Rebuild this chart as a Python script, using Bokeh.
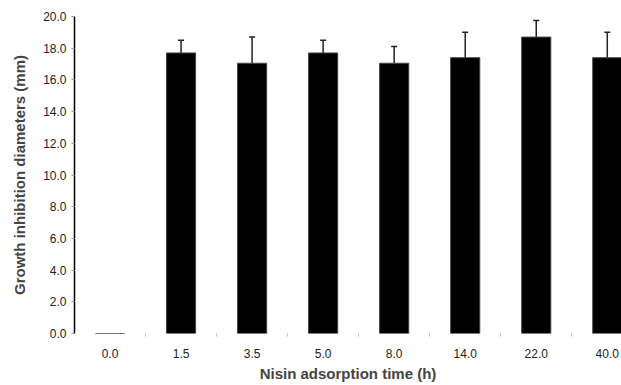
from bokeh.plotting import figure
from bokeh.models import ColumnDataSource, Whisker, TeeHead, FixedTicker, Range1d
from bokeh.embed import file_html
from bokeh.resources import INLINE

categories = ["0.0", "1.5", "3.5", "5.0", "8.0", "14.0", "22.0", "40.0"]
means = [0.0, 17.7, 17.05, 17.7, 17.05, 17.4, 18.7, 17.4]
errors = [0.0, 0.8, 1.65, 0.8, 1.05, 1.6, 1.05, 1.6]
y_ticks = [0, 2, 4, 6, 8, 10, 12, 14, 16, 18, 20]

xs = list(range(len(categories)))
src = ColumnDataSource(dict(x=xs, top=means))

p = figure(width=621, height=385, output_backend="svg", toolbar_location=None,
           x_range=Range1d(-0.5, 7.2), y_range=Range1d(0, 20),
           frame_width=547, frame_height=317,
           min_border_left=74, min_border_right=0, min_border_top=16, min_border_bottom=52)
p.outline_line_color = None
p.xgrid.visible = False
p.ygrid.visible = False
p.background_fill_color = "white"
p.border_fill_color = "white"

p.vbar(x="x", top="top", bottom=0, width=0.41, source=src,
       fill_color="black", line_color="#444444", line_width=1)

eb_src = ColumnDataSource(dict(
    x=xs[1:], lower=means[1:],
    upper=[m + e for m, e in zip(means[1:], errors[1:])],
))
w = Whisker(base="x", lower="lower", upper="upper", source=eb_src,
            line_color="#222222", line_width=1.5,
            upper_head=TeeHead(size=6, line_color="#222222", line_width=1.5),
            lower_head=None)
p.add_layout(w)

font = "Liberation Sans"
# y axis
ya = p.yaxis[0]
ya.ticker = FixedTicker(ticks=y_ticks)
ya.major_label_overrides = {t: f"{t:.1f}" for t in y_ticks}
ya.axis_line_color = "black"
ya.axis_line_width = 1.5
ya.major_tick_in = 0
ya.major_tick_out = 3
ya.major_tick_line_color = "#999999"
ya.minor_tick_line_color = None
ya.major_label_text_font = font
ya.major_label_text_font_size = "12px"
ya.major_label_text_color = "#222222"
ya.major_label_standoff = 5
ya.axis_label = "Growth inhibition diameters (mm)"
ya.axis_label_text_font = font
ya.axis_label_text_font_style = "bold"
ya.axis_label_text_font_size = "15px"
ya.axis_label_standoff = 12

# x axis
xa = p.xaxis[0]
xa.ticker = FixedTicker(ticks=xs, minor_ticks=[i + 0.5 for i in xs[:-1]])
xa.major_label_overrides = {i: c for i, c in enumerate(categories)}
xa.axis_line_color = None
xa.major_tick_line_color = None
xa.minor_tick_line_color = "#bbbbbb"
xa.minor_tick_in = 0
xa.minor_tick_out = 3
xa.major_label_text_font = font
xa.major_label_text_font_size = "12px"
xa.major_label_text_color = "#222222"
xa.major_label_standoff = 9
xa.axis_label = "Nisin adsorption time (h)"
xa.axis_label_text_font = font
xa.axis_label_text_font_style = "bold"
xa.axis_label_text_font_size = "15px"
xa.axis_label_standoff = 4

open("out.html", "w").write(file_html(p, INLINE))
